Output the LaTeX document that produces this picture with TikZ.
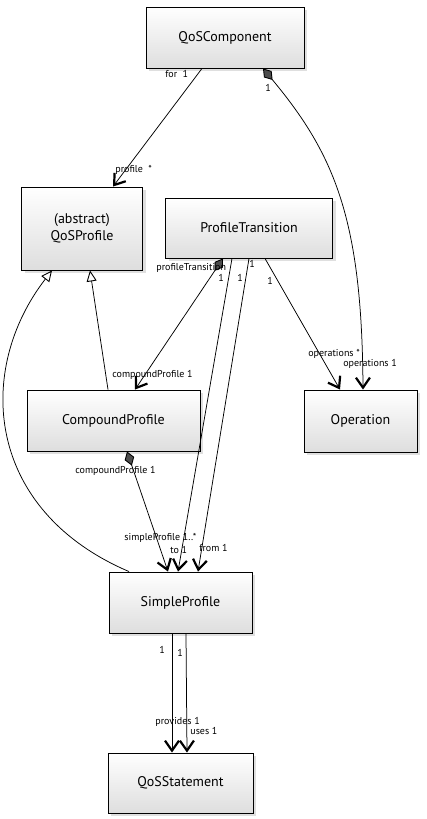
\documentclass[tikz,border=0pt]{standalone}
\usepackage{fontspec}
\setmainfont{PT Sans}
\usetikzlibrary{arrows.meta,shadows}
\begin{document}
\begin{tikzpicture}
  [x=1pt,y=-1pt,
   cls/.style={draw,line width=0.9pt,rectangle,top color=white,bottom color=black!13,
     drop shadow={opacity=0.25,shadow xshift=3pt,shadow yshift=-3pt},
     font=\fontsize{14}{17}\selectfont,align=center,inner sep=2pt},
   lbl/.style={font=\fontsize{10}{12}\selectfont,inner sep=0pt,anchor=west},
   assoc/.style={-{Straight Barb[length=10pt,width=14pt,line width=2.2pt]}},
   compo/.style={{Diamond[fill=black!70,length=15pt,width=10pt,line width=0.9pt]}-{Straight Barb[length=10pt,width=14pt,line width=2.2pt]}},
   inherit/.style={-{Triangle[open,fill=white,length=11pt,width=10pt,line width=0.9pt]}},
   every path/.style={line width=0.75pt}]
  \useasboundingbox (0,0) rectangle (427,819);

  \node[cls,minimum width=158pt,minimum height=61pt] (comp) at (225,37.5) {QoSComponent};
  \node[cls,minimum width=121pt,minimum height=83pt] (prof) at (82,228.5) {(abstract)\\QoSProfile};
  \node[cls,minimum width=167pt,minimum height=60pt] (trans) at (249,228) {ProfileTransition};
  \node[cls,minimum width=173pt,minimum height=61pt] (cprof) at (113.5,420.5) {CompoundProfile};
  \node[cls,minimum width=113pt,minimum height=62pt] (oper) at (360.5,421) {Operation};
  \node[cls,minimum width=143pt,minimum height=61pt] (sprof) at (180.5,602.5) {SimpleProfile};
  \node[cls,minimum width=145pt,minimum height=60pt] (stmt) at (180.5,783) {QoSStatement};

  \draw[assoc] ([xshift=-23pt]comp.south) -- ([xshift=31pt]prof.north);
  \draw[compo] ([xshift=38pt]comp.south) .. controls (335,155) and (362,220) .. ([xshift=2.5pt]oper.north);
  \draw[inherit] ([xshift=-5.5pt]cprof.north) -- ([xshift=8pt]prof.south);
  \draw[inherit] ([xshift=-51.5pt]sprof.north) .. controls (-15,510) and (-25,370) .. ([xshift=-30pt]prof.south);
  \draw[compo] ([xshift=-26pt]trans.south) -- ([xshift=21.5pt]cprof.north);
  \draw[compo] ([xshift=13.5pt]cprof.south) -- ([xshift=-12.5pt]sprof.north);
  \draw[assoc] ([xshift=-17pt]trans.south) -- ([xshift=-2.5pt]sprof.north);
  \draw[assoc] (trans.south) -- ([xshift=17.5pt]sprof.north);
  \draw[assoc] ([xshift=16pt]trans.south) -- ([xshift=-20.5pt]oper.north);
  \draw[assoc] ([xshift=-8.5pt]sprof.south) -- ([xshift=-8.5pt]stmt.north);
  \draw[assoc] ([xshift=5.5pt]sprof.south) -- ([xshift=6.5pt]stmt.north);

  \node[lbl] (lfor) at (165,74) {for\ \ 1};
  \node[lbl] (lprofile) at (115,170) {profile\ \ *};
  \node[lbl] (lcompone) at (265,88) {1};
  \node[lbl] (lopsone) at (343,364) {operations 1};
  \node[lbl] (lopsmany) at (308,354) {operations *};
  \node[lbl] (lptrans) at (156,268) {profileTransition};
  \node[lbl] (lptone) at (218,278) {1};
  \node[lbl] (ltoone) at (237,278) {1};
  \node[lbl] (lfromone) at (249,264) {1};
  \node[lbl] (lopone) at (267,281) {1};
  \node[lbl] (lcpa) at (112,375) {compoundProfile 1};
  \node[lbl] (lcpb) at (75,471) {compoundProfile 1};
  \node[lbl] (lsp) at (124,538) {simpleProfile 1..*};
  \node[lbl] (lto) at (170,550) {to 1};
  \node[lbl] (lfrom) at (199,548) {from 1};
  \node[lbl] (lspa) at (159,650) {1};
  \node[lbl] (lspb) at (177,653) {1};
  \node[lbl] (lprov) at (155,722) {provides 1};
  \node[lbl] (luses) at (190,731) {uses 1};

\end{tikzpicture}
\end{document}
